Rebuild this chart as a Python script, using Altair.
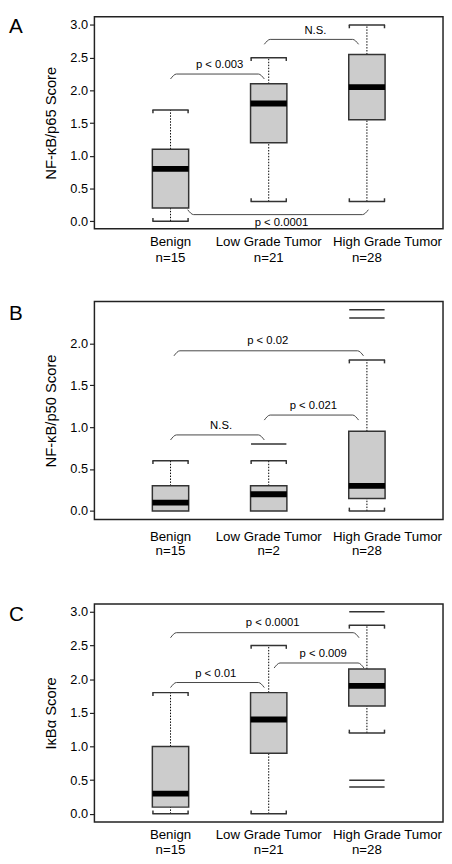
import altair as alt
import pandas as pd

FONT = "Liberation Sans"

cats = ["Benign", "Low Grade Tumor", "High Grade Tumor"]
cat_idx = [0, 1, 2]

# ---- Panel A : NF-kB/p65 ----
a_low = [0.0, 0.3, 0.3]
a_q1 = [0.2, 1.2, 1.55]
a_med = [0.8, 1.8, 2.05]
a_q3 = [1.1, 2.1, 2.55]
a_high = [1.7, 2.5, 3.0]
a_n = ["n=15", "n=21", "n=28"]
a_out_idx = []
a_out_val = []
a_br_x0 = [0.0, 0.955, 0.175]
a_br_x1 = [0.955, 1.915, 2.015]
a_br_y = [2.25, 2.78, 0.1]
a_br_dir = [1, 1, -1]
a_br_text = ["p < 0.003", "N.S.", "p < 0.0001"]
a_txt_x = [0.5, 1.475, 1.13]
a_txt_y = [2.38, 2.91, -0.03]

# ---- Panel B : NF-kB/p50 ----
b_low = [0.0, 0.0, 0.0]
b_q1 = [0.0, 0.0, 0.15]
b_med = [0.1, 0.2, 0.3]
b_q3 = [0.3, 0.3, 0.95]
b_high = [0.6, 0.6, 1.8]
b_n = ["n=15", "n=2", "n=28"]
b_out_idx = [1, 2, 2]
b_out_val = [0.8, 2.3, 2.4]
b_br_x0 = [0.035, 0.955, 0.0]
b_br_x1 = [1.965, 1.915, 0.955]
b_br_y = [1.91, 1.144, 0.907]
b_br_dir = [1, 1, 1]
b_br_text = ["p < 0.02", "p < 0.021", "N.S."]
b_txt_x = [0.99, 1.455, 0.515]
b_txt_y = [2.03, 1.25, 1.016]

# ---- Panel C : IkBa ----
c_low = [0.0, 0.0, 1.2]
c_q1 = [0.1, 0.9, 1.6]
c_med = [0.3, 1.4, 1.9]
c_q3 = [1.0, 1.8, 2.15]
c_high = [1.8, 2.5, 2.8]
c_n = ["n=15", "n=21", "n=28"]
c_out_idx = [2, 2, 2]
c_out_val = [3.0, 0.5, 0.4]
c_br_x0 = [0.0, 1.055, 0.0]
c_br_x1 = [1.92, 1.97, 0.955]
c_br_y = [2.69, 2.24, 1.95]
c_br_dir = [1, 1, 1]
c_br_text = ["p < 0.0001", "p < 0.009", "p < 0.01"]
c_txt_x = [1.04, 1.555, 0.46]
c_txt_y = [2.83, 2.38, 2.07]

W = 355
BOXW = 37
HALF = 0.185
xs = alt.Scale(domain=[-0.775, 2.775], nice=False, zero=False)


def panel(letter, title, H, ydom, yvals, low, q1, med, q3, high, nlab,
          out_idx, out_val, bx0, bx1, by, bdir, btext, tx, ty,
          hook, caphook, lab_off, letter_y):
    ys = alt.Scale(domain=ydom, nice=False, zero=False)
    yaxis = alt.Axis(title=title, values=yvals, format=".1f", grid=False,
                     domain=False, ticks=True, tickSize=5, tickColor="#222",
                     tickWidth=1.2, labelFontSize=13, labelColor="black",
                     labelFont=FONT, labelPadding=2, titleFont=FONT,
                     titleFontSize=15, titleFontWeight="normal",
                     titleColor="black", titlePadding=12)

    def X(f):
        return alt.X(f, type="quantitative", scale=xs, axis=None)

    def Y(f):
        return alt.Y(f, type="quantitative", scale=ys, axis=yaxis)

    df = pd.DataFrame({"idx": cat_idx, "low": low, "q1": q1, "med": med,
                       "q3": q3, "high": high, "cat": cats, "n": nlab})
    base = alt.Chart(df).transform_calculate(
        xl=f"datum.idx - {HALF}", xr=f"datum.idx + {HALF}",
        xlh=f"datum.idx - {HALF - 0.006}", xrh=f"datum.idx + {HALF - 0.006}")

    dash = dict(color="black", strokeWidth=1, strokeDash=[1.5, 1.5])
    wu = base.mark_rule(**dash).encode(x=X("idx"), y=Y("q3"), y2="high")
    wl = base.transform_filter("datum.low < datum.q1").mark_rule(**dash).encode(
        x=X("idx"), y=Y("low"), y2="q1")
    box = base.mark_rect(fill="#cccccc", stroke="#333333", strokeWidth=1.5).encode(
        x=X("xl"), x2="xr", y=Y("q1"), y2="q3")
    medm = base.mark_tick(orient="horizontal", size=BOXW, thickness=6,
                          color="black", opacity=1).encode(x=X("idx"), y=Y("med"))

    capst = dict(color="#333333", strokeWidth=1.5)
    top = base.transform_calculate(yh=f"datum.high - {caphook}")
    bot = base.transform_filter("datum.low < datum.q1").transform_calculate(
        yh=f"datum.low + {caphook}")
    caps = []
    for src, f in ((top, "high"), (bot, "low")):
        caps.append(src.mark_rule(**capst).encode(x=X("xl"), x2="xr", y=Y(f)))
        caps.append(src.mark_rule(**capst).encode(x=X("xlh"), y=Y(f), y2="yh"))
        caps.append(src.mark_rule(**capst).encode(x=X("xrh"), y=Y(f), y2="yh"))

    layers = [wu, wl, box, medm] + caps

    if out_idx:
        odf = pd.DataFrame({"idx": out_idx, "v": out_val})
        layers.append(alt.Chart(odf).mark_tick(
            orient="horizontal", size=BOXW - 1, thickness=1.5,
            color="#333333", opacity=1).encode(x=X("idx"), y=Y("v")))

    rows = []
    for i in range(len(bx0)):
        d = bdir[i]
        rows += [
            {"b": i, "x": bx0[i], "y": by[i] - d * hook},
            {"b": i, "x": bx0[i] + 0.06, "y": by[i]},
            {"b": i, "x": bx1[i] - 0.06, "y": by[i]},
            {"b": i, "x": bx1[i], "y": by[i] - d * hook},
        ]
    bdf = pd.DataFrame(rows)
    layers.append(alt.Chart(bdf).mark_line(
        interpolate="monotone", color="#444444", strokeWidth=1).encode(
        x=X("x"), y=Y("y"), detail="b:N"))

    tdf = pd.DataFrame({"x": tx, "y": ty, "t": btext})
    layers.append(alt.Chart(tdf).mark_text(
        font=FONT, fontSize=11.5, color="black", baseline="middle").encode(
        x=X("x"), y=Y("y"), text="t:N"))

    layers.append(base.transform_filter("datum.idx < 2").mark_text(
        font=FONT, fontSize=13.5, color="black", baseline="middle").encode(
        x=X("idx"), y=alt.value(H + lab_off[0]), text="cat:N"))
    layers.append(base.transform_filter("datum.idx == 2").mark_text(
        font=FONT, fontSize=13.5, color="black", baseline="middle", dx=21).encode(
        x=X("idx"), y=alt.value(H + lab_off[0]), text="cat:N"))
    layers.append(base.mark_text(
        font=FONT, fontSize=13.5, color="black", baseline="middle").encode(
        x=X("idx"), y=alt.value(H + lab_off[1]), text="n:N"))

    ldf = pd.DataFrame({"t": [letter]})
    layers.append(alt.Chart(ldf).mark_text(
        font=FONT, fontSize=21, color="black", align="left",
        baseline="alphabetic").encode(
        x=alt.value(-87), y=alt.value(letter_y), text="t:N"))

    return alt.layer(*layers).properties(width=W, height=H)


pA = panel("A", "NF-\u03baB/p65 Score", 216, [-0.117, 3.127],
           [0, 0.5, 1.0, 1.5, 2.0, 2.5, 3.0],
           a_low, a_q1, a_med, a_q3, a_high, a_n, a_out_idx, a_out_val,
           a_br_x0, a_br_x1, a_br_y, a_br_dir, a_br_text, a_txt_x, a_txt_y,
           0.075, 0.05, (13.5, 29.5), 17)
pB = panel("B", "NF-\u03baB/p50 Score", 222, [-0.101, 2.498],
           [0, 0.5, 1.0, 1.5, 2.0],
           b_low, b_q1, b_med, b_q3, b_high, b_n, b_out_idx, b_out_val,
           b_br_x0, b_br_x1, b_br_y, b_br_dir, b_br_text, b_txt_x, b_txt_y,
           0.06, 0.04, (17.5, 32.5), 19)
pC = panel("C", "I\u03baB\u03b1 Score", 222, [-0.12, 3.117],
           [0, 0.5, 1.0, 1.5, 2.0, 2.5, 3.0],
           c_low, c_q1, c_med, c_q3, c_high, c_n, c_out_idx, c_out_val,
           c_br_x0, c_br_x1, c_br_y, c_br_dir, c_br_text, c_txt_x, c_txt_y,
           0.075, 0.05, (13.5, 28.5), 17)

inner = alt.vconcat(pB, pC, spacing=86, bounds="flush")
chart = alt.vconcat(pA, inner, spacing=74, bounds="flush").properties(
    padding=0
).configure_view(stroke="#222222", strokeWidth=1.5).configure_concat(spacing=0)

chart.save("out.html", embed_options={"renderer": "svg", "actions": False})
